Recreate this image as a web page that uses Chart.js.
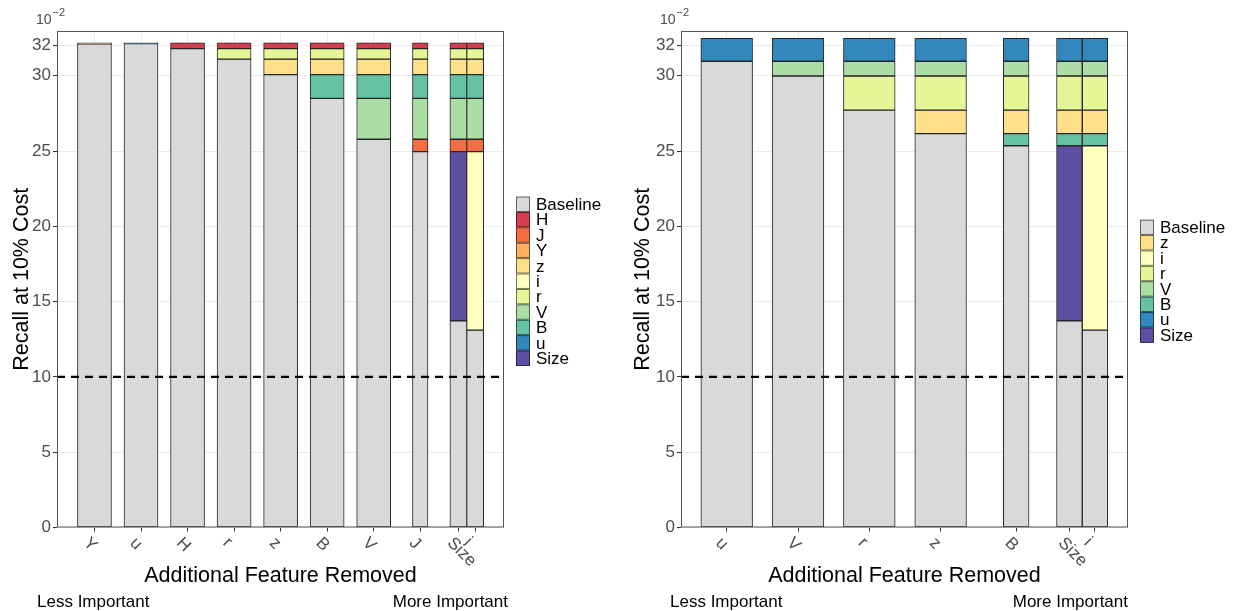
<!DOCTYPE html>
<html>
<head>
<meta charset="utf-8">
<script src="https://cdn.jsdelivr.net/npm/chart.js@4.4.1/dist/chart.umd.min.js"></script>
<style>
  html, body { margin: 0; padding: 0; background: #fff; }
  #wrap { position: relative; width: 1233px; height: 611px; }
  #leftChart { position: absolute; left: 0; top: 0; }
  #rightChart { position: absolute; left: 616px; top: 0; }
</style>
</head>
<body>
<div id="wrap">
  <canvas id="leftChart" width="616" height="611"></canvas>
  <canvas id="rightChart" width="617" height="611"></canvas>
</div>
<script>
// recall at 10% cost, in units of 1e-2
const threshold = 10;
const yTicks = [0, 5, 10, 15, 20, 25, 30, 32];

// left panel: feature removed on top of the previously removed chain
const leftFull = 32.19;
const leftFeatures = ['Y', 'u', 'H', 'r', 'z', 'B', 'V', 'J', 'Size', 'i'];
const leftBaseline = [32.12, 32.13, 31.80, 31.10, 30.07, 28.50, 25.78, 24.96, 13.73, 13.11];
const leftBuiltOn = [null, null, null, 'H', 'r', 'z', 'B', 'V', 'J', 'J'];

// right panel
const rightFull = 32.48;
const rightFeatures = ['u', 'V', 'r', 'z', 'B', 'Size', 'i'];
const rightBaseline = [30.96, 29.98, 27.72, 26.15, 25.35, 13.73, 13.11];
const rightBuiltOn = [null, 'u', 'V', 'r', 'z', 'B', 'B'];

const legendOrder = ['H', 'J', 'Y', 'z', 'i', 'r', 'V', 'B', 'u', 'Size'];
const featureColors = {
  Baseline: '#d9d9d9', H: '#d53e4f', J: '#f46d43', Y: '#fdae61', z: '#fee08b',
  i: '#ffffbf', r: '#e6f598', V: '#abdda4', B: '#66c2a5', u: '#3288bd', Size: '#5e4fa2'
};

// layout (pixels / axis units), kept apart from the data
const FONT = "'Liberation Sans', Arial, sans-serif";
const leftLayout = {
  areaLeft: 57, areaRight: 504, xRange: [0.195, 9.80],
  slots: [1, 2, 3, 4, 5, 6, 7, 8, 8.82, 9.18],
  barPx: [34, 34, 34, 34, 34, 34, 34, 15.5, 17, 17],
  titlePad: 9, lessX: 37, moreX: 508
};
const rightLayout = {
  areaLeft: 65, areaRight: 512, xRange: [0.359, 6.628],
  slots: [1, 2, 3, 4, 5.06, 5.806, 6.165],
  barPx: [51.7, 51.7, 51.7, 51.7, 25.7, 25.7, 25.5],
  titlePad: 14.5, lessX: 54, moreX: 512
};
const AREA_TOP = 31, AREA_BOTTOM = 527.5, CANVAS_H = 611;

function buildSegments(features, baseline, builtOn, full) {
  const base = {};
  features.forEach((f, i) => { base[f] = baseline[i]; });
  return features.map((f, i) => {
    const segs = [{ feature: 'Baseline', lo: 0, hi: baseline[i] }];
    let lo = baseline[i], owner = f, prev = builtOn[i];
    while (true) {
      const hi = prev ? base[prev] : full;
      segs.push({ feature: owner, lo, hi });
      if (!prev) break;
      lo = hi;
      owner = prev;
      prev = builtOn[features.indexOf(prev)];
    }
    return segs;
  });
}

const decor = {
  id: 'decor',
  afterDraw(chart, args, opts) {
    const { ctx, chartArea: a, scales } = chart;
    ctx.save();
    // panel border
    ctx.strokeStyle = '#555';
    ctx.lineWidth = 1;
    ctx.strokeRect(a.left + 0.5, a.top + 0.5, a.right - a.left - 1, a.bottom - a.top - 1);

    // rotated x labels
    ctx.fillStyle = '#4d4d4d';
    ctx.font = '17px ' + FONT;
    ctx.textAlign = 'left';
    ctx.textBaseline = 'top';
    opts.features.forEach((f, i) => {
      const px = scales.x.getPixelForValue(opts.slots[i]);
      ctx.save();
      ctx.translate(px - 2.5, a.bottom + 7);
      ctx.rotate(Math.PI / 4);
      ctx.fillText(f, 0, 0);
      ctx.restore();
    });

    // 10^-2 multiplier
    ctx.fillStyle = '#4d4d4d';
    ctx.textBaseline = 'alphabetic';
    ctx.font = '14px ' + FONT;
    ctx.fillText('10', a.left - 21, 24);
    const w10 = ctx.measureText('10').width;
    ctx.font = '11px ' + FONT;
    ctx.fillText('\u22122', a.left - 21 + w10 + 1, 16);

    // importance notes
    ctx.fillStyle = '#000';
    ctx.font = '17px ' + FONT;
    ctx.textAlign = 'left';
    ctx.fillText('Less Important', opts.lessX, 607);
    ctx.textAlign = 'right';
    ctx.fillText('More Important', opts.moreX, 607);

    // legend
    const keys = ['Baseline'].concat(legendOrder.filter(k => opts.features.includes(k)));
    const itemH = 15.4;
    const cy = (a.top + a.bottom) / 2 + 2;
    const top = cy - keys.length * itemH / 2;
    const lx = a.right + 12;
    ctx.textAlign = 'left';
    ctx.textBaseline = 'middle';
    keys.forEach((k, j) => {
      const y = top + j * itemH;
      ctx.fillStyle = featureColors[k];
      ctx.fillRect(lx, y, 14, itemH);
      ctx.strokeStyle = 'rgba(0,0,0,0.55)';
      ctx.strokeRect(lx + 0.5, y + 0.5, 13, itemH - 1);
      ctx.fillStyle = '#000';
      ctx.fillText(k, lx + 20, y + itemH / 2 + 1);
    });
    ctx.restore();
  }
};

function makeChart(canvasId, features, baseline, builtOn, full, L) {
  const segs = buildSegments(features, baseline, builtOn, full);
  const datasets = features.map((f, i) => ({
    type: 'bar',
    label: f,
    data: segs[i].map(s => ({ x: L.slots[i], y: [s.lo, s.hi] })),
    backgroundColor: segs[i].map(s => featureColors[s.feature]),
    borderColor: '#262626',
    borderWidth: 1,
    borderSkipped: false,
    barThickness: L.barPx[i],
    grouped: false,
    order: 1
  }));
  datasets.push({
    type: 'line',
    label: 'threshold',
    data: [{ x: L.xRange[0], y: threshold }, { x: L.xRange[1], y: threshold }],
    borderColor: '#000',
    borderWidth: 2.2,
    borderDash: [8, 6],
    pointRadius: 0,
    order: 0
  });
  const canvas = document.getElementById(canvasId);
  return new Chart(canvas, {
    type: 'bar',
    data: { datasets },
    options: {
      responsive: false,
      animation: false,
      layout: { padding: { left: 0, top: AREA_TOP, right: canvas.width - L.areaRight, bottom: 0 } },
      plugins: {
        legend: { display: false },
        tooltip: { enabled: false },
        decor: { features, slots: L.slots, lessX: L.lessX, moreX: L.moreX }
      },
      scales: {
        x: {
          type: 'linear',
          min: L.xRange[0],
          max: L.xRange[1],
          offset: false,
          afterBuildTicks: s => { s.ticks = L.slots.map(v => ({ value: v })); },
          afterFit: s => { s.height = CANVAS_H - AREA_BOTTOM; },
          grid: { offset: false, color: '#ebebeb', tickColor: '#333', tickLength: 4 },
          border: { display: false },
          ticks: { display: false },
          title: {
            display: true, text: 'Additional Feature Removed', color: '#000',
            font: { size: 21.5, family: FONT }, padding: { top: 0, bottom: 22 }
          }
        },
        y: {
          min: 0,
          max: 32.97,
          afterBuildTicks: s => { s.ticks = yTicks.map(v => ({ value: v })); },
          afterFit: s => { s.width = L.areaLeft; },
          grid: { color: '#ebebeb', tickColor: '#333', tickLength: 4 },
          border: { display: false },
          ticks: { color: '#4d4d4d', font: { size: 17, family: FONT }, padding: 2 },
          title: {
            display: true, text: 'Recall at 10% Cost', color: '#000',
            font: { size: 21.5, family: FONT }, padding: { top: L.titlePad, bottom: 0 }
          }
        }
      }
    },
    plugins: [decor]
  });
}

makeChart('leftChart', leftFeatures, leftBaseline, leftBuiltOn, leftFull, leftLayout);
makeChart('rightChart', rightFeatures, rightBaseline, rightBuiltOn, rightFull, rightLayout);
</script>
</body>
</html>
